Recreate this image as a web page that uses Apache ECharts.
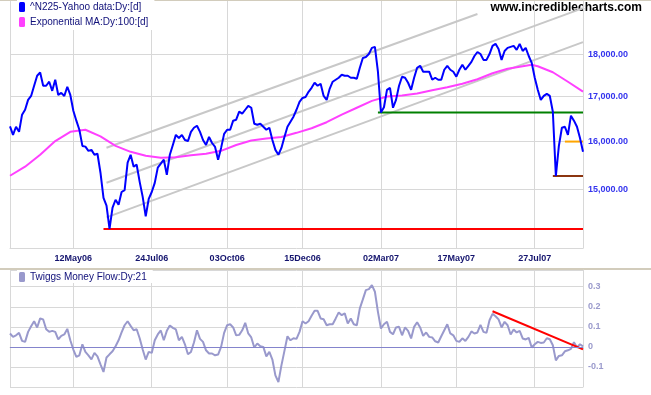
<!DOCTYPE html>
<html>
<head>
<meta charset="utf-8">
<script src="https://cdn.jsdelivr.net/npm/echarts@6/dist/echarts.min.js"></script>
<style>html,body{margin:0;padding:0;background:#fff;}#c{width:651px;height:395px;}</style>
</head>
<body>
<div id="c"></div>
<script>
// ---- data ----
const priceName = '^N225-Yahoo data:Dy:[d]';
const emaName = 'Exponential MA:Dy:100:[d]';
const tmfName = 'Twiggs Money Flow:Dy:21';

const priceValues = [
  16330,16145,16324,16212,16592,16703,16926,17017,17253,17488,
  17566,17253,17253,17347,17135,17394,17040,17087,17017,17229,
  17040,16681,16458,16257,15906,15891,15801,15822,15718,15739,
  15341,14830,14673,14219,14634,14791,14693,14947,14986,15550,
  15718,15467,15508,15153,14849,14464,14810,14947,15132,15446,
  15529,15613,15299,15718,15927,16145,16078,16145,16034,16011,
  16212,16301,16346,16212,16034,15927,16100,15969,15885,15613,
  15864,16167,16257,16257,16458,16480,16659,16614,16703,16792,
  16748,16391,16368,16391,16324,16257,16301,16034,15822,15718,
  15864,16100,16324,16436,16547,16703,16882,16971,16993,17111,
  17205,17323,17253,17300,17017,16926,17182,17347,17394,17441,
  17512,17488,17488,17441,17441,17418,17677,17913,17936,18008,
  18158,18183,17583,16642,16760,17158,17205,16748,16926,17253,
  17465,17441,17323,17158,17441,17677,17724,17583,17583,17583,
  17394,17441,17394,17394,17630,17724,17630,17583,17465,17630,
  17748,17630,17724,17818,17960,18058,18008,17866,17866,18008,
  18208,18258,18133,17866,18083,18158,18183,18208,18108,18258,
  18083,18158,17960,17795,17441,17158,16926,17017,17064,17017,
  16659,15273,15906,16301,16324,16145,16569,16458,16324,16078,
  15780
];

// EMA(100) read at every 5th position: [position, value]
const emaPoints = [
  [0,15278],[5,15467],[10,15718],[15,16011],[20,16212],[25,16257],[30,16112],
  [35,15906],[40,15780],[45,15697],[50,15655],[55,15665],[60,15707],[65,15739],
  [70,15801],[75,15927],[80,16022],[85,16067],[90,16100],[95,16190],[100,16290],
  [105,16424],[110,16592],[115,16748],[120,16904],[125,17005],[130,17028],[135,17075],
  [140,17146],[145,17217],[150,17300],[155,17406],[160,17547],[165,17653],[170,17712],
  [173,17748],[175,17712],[180,17571],[185,17347],[190,17118]
];

const tmfValues = [
  0.067,0.05,0.058,0.07,0.03,0.025,0.075,0.103,0.128,0.097,
  0.142,0.137,0.088,0.075,0.08,0.075,0.037,0.055,0.062,0.09,
  0.033,-0.013,-0.05,-0.042,0.013,-0.025,-0.042,-0.062,-0.03,-0.047,
  -0.087,-0.125,-0.053,-0.037,-0.022,0.003,0.033,0.072,0.108,0.128,
  0.105,0.083,0.088,0.043,-0.013,-0.063,-0.025,-0.03,0.033,0.062,
  0.082,0.033,0.08,0.107,0.095,0.087,0.033,0.05,0.013,-0.037,
  -0.025,0.022,0.083,0.04,0.025,-0.017,-0.033,-0.033,-0.042,-0.038,
  0,0.07,0.108,0.113,0.097,0.058,0.06,0.083,0.12,0.067,
  0.047,-0.003,0.017,0.003,0,-0.047,-0.025,-0.063,-0.142,-0.175,
  -0.092,-0.02,0.053,0.033,0.043,0.04,0.075,0.128,0.117,0.128,
  0.155,0.18,0.18,0.142,0.138,0.108,0.113,0.113,0.142,0.172,
  0.158,0.167,0.117,0.142,0.113,0.108,0.192,0.237,0.283,0.288,
  0.308,0.275,0.175,0.092,0.113,0.125,0.075,0.063,0.097,0.1,
  0.058,0.097,0.08,0.042,0.1,0.123,0.097,0.055,0.072,0.05,
  0.047,0.028,0.022,0.053,0.083,0.113,0.067,0.058,0.03,0.025,
  0.043,0.03,0.05,0.077,0.067,0.072,0.11,0.075,0.07,0.133,
  0.165,0.153,0.137,0.097,0.125,0.108,0.062,0.087,0.072,0.08,
  0.042,0.037,0.045,-0.003,0.013,0.025,0.02,0.022,0.043,0.038,
  0.008,-0.067,-0.045,-0.042,-0.022,-0.017,-0.01,0.023,-0.003,0.013,
  0.003
];

const tickPositions = [21, 47, 72, 97, 123, 148, 174];
const tickLabels = ['12May06','24Jul06','03Oct06','15Dec06','02Mar07','17May07','27Jul07'];
const priceTicks = [15000, 16000, 17000, 18000];

const channelTop = [[32, 15867], [155, 19007]];
const channelMid = [[32, 15134], [190, 19161]];
const channelBot = [[32, 14443], [190, 18301]];
const lowLevel = [[31, 14219], [190, 14219]];
const marchLevel = [[122, 16642], [190, 16642]];
const augLowLevel = [[180, 15273], [190, 15273]];
const augMidLevel = [[184, 16000], [190, 16000]];
const tmfTrend = [[160, 0.178], [190, -0.012]];

// ---- chart ----
const FONT = '"Liberation Sans", Arial, sans-serif';
const GRID = '#d8d8d8';
const labelAt = {};
tickPositions.forEach((p, k) => { labelAt[p] = tickLabels[k]; });
const xCats = priceValues.map((_, i) => labelAt[i] !== undefined ? labelAt[i] : ' ' + i);
const isTick = (i) => labelAt[i] !== undefined;

function fmtPrice(v) {
  return Number(v).toLocaleString('en-US', {minimumFractionDigits: 2, maximumFractionDigits: 2});
}
function lineSeries(name, data, color, width, xi, yi, z) {
  return {
    name: name, type: 'line', data: data, xAxisIndex: xi, yAxisIndex: yi,
    symbol: 'none', showSymbol: false, silent: true, z: z || 2,
    lineStyle: {color: color, width: width}, itemStyle: {color: color}
  };
}

const chart = echarts.init(document.getElementById('c'), null, {renderer: 'canvas'});
const option = {
  animation: false,
  backgroundColor: '#ffffff',
  textStyle: {fontFamily: FONT},
  grid: [
    {left: 10, right: 68, top: 1, height: 247},
    {left: 10, right: 68, top: 270, height: 117}
  ],
  legend: [
    {
      data: [priceName, emaName], orient: 'vertical', left: 17, top: 0,
      icon: 'roundRect', itemWidth: 6, itemHeight: 10, itemGap: 5,
      padding: [2, 6, 3, 2], backgroundColor: '#ffffff',
      textStyle: {color: '#10107a', fontSize: 10, fontFamily: FONT},
      selectedMode: false
    },
    {
      data: [tmfName], orient: 'vertical', left: 17, top: 270,
      icon: 'roundRect', itemWidth: 6, itemHeight: 10,
      padding: [2, 6, 1, 2], backgroundColor: '#ffffff',
      textStyle: {color: '#10107a', fontSize: 10, fontFamily: FONT},
      selectedMode: false
    }
  ],
  xAxis: [
    {
      type: 'category', gridIndex: 0, data: xCats, boundaryGap: false,
      axisLine: {show: true, lineStyle: {color: GRID, width: 1}},
      axisTick: {show: false},
      axisLabel: {
        interval: (i) => isTick(i), color: '#14146e', fontWeight: 'bold',
        fontSize: 9, margin: 6, fontFamily: FONT
      },
      splitLine: {show: true, interval: (i) => i === 0 || isTick(i), lineStyle: {color: GRID, width: 1}}
    },
    {
      type: 'category', gridIndex: 1, data: xCats, boundaryGap: false,
      axisLine: {show: true, lineStyle: {color: GRID, width: 1}},
      axisTick: {show: false},
      axisLabel: {show: false},
      splitLine: {show: true, interval: (i) => i === 0 || isTick(i), lineStyle: {color: GRID, width: 1}}
    }
  ],
  yAxis: [
    {
      type: 'log', logBase: 10, gridIndex: 0, position: 'right',
      min: 13858, max: 19345,
      axisLine: {show: true, lineStyle: {color: GRID}},
      axisTick: {show: false, customValues: priceTicks},
      axisLabel: {
        customValues: priceTicks, formatter: fmtPrice, color: '#3434ee',
        fontWeight: 'bold', fontSize: 9, margin: 5, fontFamily: FONT
      },
      splitLine: {show: true, lineStyle: {color: GRID, width: 1}}
    },
    {
      type: 'value', gridIndex: 1, position: 'right',
      min: -0.2, max: 0.3835, interval: 0.1,
      axisLine: {show: true, lineStyle: {color: GRID}},
      axisTick: {show: false},
      axisLabel: {
        color: '#9a9acc', fontWeight: 'bold', fontSize: 9, margin: 5, fontFamily: FONT,
        formatter: (v) => {
          const r = Math.round(v * 10);
          if (Math.abs(v * 10 - r) > 1e-6 || r < -1 || r > 3) return '';
          return r === 0 ? '0' : (r / 10).toFixed(1);
        }
      },
      splitLine: {show: true, lineStyle: {color: GRID, width: 1}}
    }
  ],
  graphic: [
    {type: 'rect', left: 0, top: 0, shape: {width: 651, height: 1}, style: {fill: '#d2ccbc'}, silent: true},
    {type: 'rect', left: 0, top: 268, shape: {width: 651, height: 2}, style: {fill: '#d2ccbc'}, silent: true},
    {
      type: 'text', right: 9, top: 2, silent: true,
      style: {text: 'www.incrediblecharts.com', fill: '#000000', font: 'bold 12px ' + FONT}
    }
  ],
  series: [
    lineSeries('chTop', channelTop, '#c8c8c8', 2, 0, 0, 1),
    lineSeries('chMid', channelMid, '#c8c8c8', 2, 0, 0, 1),
    lineSeries('chBot', channelBot, '#c8c8c8', 2, 0, 0, 1),
    lineSeries('low', lowLevel, '#ff0000', 2, 0, 0, 2),
    lineSeries('march', marchLevel, '#008000', 2, 0, 0, 2),
    lineSeries('augLow', augLowLevel, '#8b3510', 2, 0, 0, 2),
    lineSeries('augMid', augMidLevel, '#ffa500', 2, 0, 0, 2),
    lineSeries(emaName, emaPoints, '#ff40ff', 2, 0, 0, 3),
    lineSeries(priceName, priceValues, '#0000ff', 2, 0, 0, 4),
    Object.assign(lineSeries(tmfName, tmfValues, '#9999cc', 2, 1, 1, 3), {
      markLine: {
        silent: true, symbol: 'none', label: {show: false},
        lineStyle: {color: '#8484cc', width: 1, type: 'solid'},
        data: [{yAxis: 0}]
      }
    }),
    lineSeries('tmfTrend', tmfTrend, '#ff0000', 2, 1, 1, 4)
  ]
};
chart.setOption(option);
</script>
</body>
</html>
